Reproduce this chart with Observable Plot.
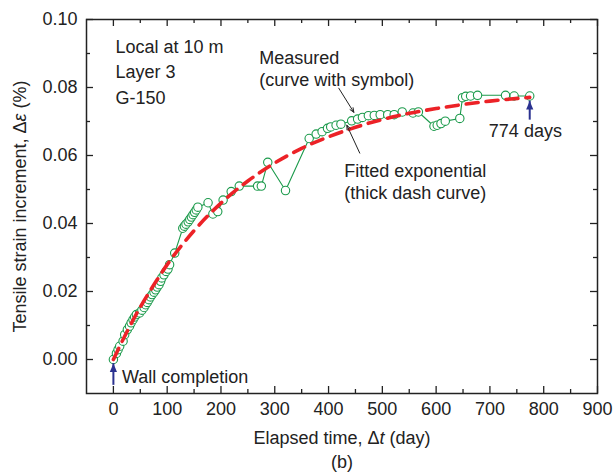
<!DOCTYPE html>
<html>
<head>
<meta charset="utf-8">
<script src="https://cdn.jsdelivr.net/npm/d3@7"></script>
<script src="https://cdn.jsdelivr.net/npm/@observablehq/plot@0.6"></script>
<style>
  body { margin: 0; background: white; }
</style>
</head>
<body>
<div id="chart"></div>
<script>
// Measured curve (elapsed time in days, tensile strain increment in %)
const measT = [0, 5.6, 8.7, 11.7, 18, 21, 26, 30, 33, 36.5, 39.5, 42.7, 48.8, 53, 57, 60, 63, 66, 69, 72,
  75.5, 78.5, 81.6, 84.8, 87.8, 90, 94, 98, 101.5, 104.5, 114, 129, 132, 135, 139, 142, 145, 148, 151, 154,
  157, 176, 185, 194, 204, 219, 234, 268, 275, 287, 320, 364, 377, 388, 398, 404, 414, 423, 443, 454,
  463, 474, 485, 496, 510, 522, 537, 557, 567, 596, 602, 609, 617, 644, 649, 655, 664, 677, 729, 745, 774];
const measV = [0, 0.0018, 0.0029, 0.0039, 0.0054, 0.0073, 0.0088, 0.0098, 0.0108, 0.0117, 0.0125, 0.0132, 0.0137, 0.0145, 0.0153, 0.0161, 0.0168, 0.0176, 0.0184, 0.0191,
  0.0198, 0.0205, 0.0213, 0.022, 0.023, 0.024, 0.0249, 0.0259, 0.0266, 0.0279, 0.0313, 0.0386, 0.0392, 0.0398, 0.0405, 0.0412, 0.0419, 0.0426, 0.0433, 0.044,
  0.0448, 0.0461, 0.0428, 0.0435, 0.0469, 0.0494, 0.051, 0.051, 0.051, 0.058, 0.0497, 0.065, 0.0663, 0.067, 0.068, 0.0684, 0.0689, 0.0692, 0.0702, 0.0707,
  0.0712, 0.0717, 0.0718, 0.072, 0.072, 0.072, 0.0728, 0.0725, 0.0728, 0.0686, 0.0689, 0.0694, 0.0701, 0.0709, 0.077, 0.0774, 0.0775, 0.0777, 0.0777, 0.0775, 0.0775];

// Fitted exponential curve
const fitT = [0, 25, 50, 75, 100, 150, 200, 250, 300, 350, 400, 450, 500, 550, 600, 650, 700, 774];
const fitV = [0, 0.0081, 0.0154, 0.0219, 0.0279, 0.0379, 0.046, 0.0525, 0.0578, 0.0621, 0.0655, 0.0683, 0.0706, 0.0724, 0.0738, 0.075, 0.076, 0.0771];

// Axis ticks
const xMajor = [0, 100, 200, 300, 400, 500, 600, 700, 800, 900];
const xMinor = [50, 150, 250, 350, 450, 550, 650, 750, 850];
const yMajor = [0, 0.02, 0.04, 0.06, 0.08, 0.10];
const yMinor = [0.01, 0.03, 0.05, 0.07, 0.09];
const xDomain = [-50, 900];
const yDomain = [-0.01, 0.10];

// Annotations
const noteText = ["Local at 10 m", "Layer 3", "G-150", "Measured", "(curve with symbol)", "Fitted exponential", "(thick dash curve)", "774 days", "Wall completion"];
const noteT = [3.7, 3.7, 3.7, 271, 271, 429, 429, 698, 16];
const noteV = [0.0918, 0.0845, 0.0768, 0.0886, 0.0821, 0.0554, 0.049, 0.0672, -0.0053];

const pointerT1 = [419, 458];
const pointerV1 = [0.0798, 0.0607];
const pointerT2 = [447, 434];
const pointerV2 = [0.0727, 0.0689];

const blueT = [0, 774];
const blueTip = [-0.0012, 0.0760];
const blueBase = [-0.0076, 0.0704];

const measured = measT.map((t, i) => ({t, v: measV[i]}));
const fitted = fitT.map((t, i) => ({t, v: fitV[i]}));
const notes = noteText.map((s, i) => ({s, t: noteT[i], v: noteV[i]}));
const pointers = pointerT1.map((t, i) => ({t1: t, v1: pointerV1[i], t2: pointerT2[i], v2: pointerV2[i]}));
const blue = blueT.map((t, i) => ({t, tip: blueTip[i], base: blueBase[i]}));

const tipSymbol = {
  draw(ctx) {
    ctx.moveTo(0, 0);
    ctx.lineTo(3.6, 8.5);
    ctx.lineTo(-3.6, 8.5);
    ctx.closePath();
  }
};

const W = 613, H = 475, mL = 86, mR = 16, mT = 19, mB = 82;
const fw = W - mL - mR, fh = H - mT - mB;
const ink = "#222";
const green = "#1b9a4b";
const red = "#ec2227";
const navy = "#2b3290";

const chart = Plot.plot({
  width: W,
  height: H,
  marginLeft: mL,
  marginRight: mR,
  marginTop: mT,
  marginBottom: mB,
  style: {fontFamily: "'Liberation Sans', Arial, sans-serif", fontSize: "18px", color: ink, background: "white"},
  x: {domain: xDomain},
  y: {domain: yDomain},
  marks: [
    // tick marks (inward, all four sides)
    Plot.ruleX(xMajor, {x: d => d, insetTop: fh - 7, stroke: ink, strokeWidth: 1.3}),
    Plot.ruleX(xMajor, {x: d => d, insetBottom: fh - 7, stroke: ink, strokeWidth: 1.3}),
    Plot.ruleX(xMinor, {x: d => d, insetTop: fh - 4, stroke: ink, strokeWidth: 1.3}),
    Plot.ruleX(xMinor, {x: d => d, insetBottom: fh - 4, stroke: ink, strokeWidth: 1.3}),
    Plot.ruleY(yMajor, {y: d => d, insetRight: fw - 7, stroke: ink, strokeWidth: 1.3}),
    Plot.ruleY(yMajor, {y: d => d, insetLeft: fw - 7, stroke: ink, strokeWidth: 1.3}),
    Plot.ruleY(yMinor, {y: d => d, insetRight: fw - 4, stroke: ink, strokeWidth: 1.3}),
    Plot.ruleY(yMinor, {y: d => d, insetLeft: fw - 4, stroke: ink, strokeWidth: 1.3}),
    Plot.frame({stroke: ink, strokeWidth: 1.5}),
    Plot.axisX({ticks: xMajor, tickSize: 0, tickPadding: 9, tickFormat: d => String(d), label: null, fontSize: 18, fill: ink}),
    Plot.axisY({ticks: yMajor, tickSize: 0, tickPadding: 9, tickFormat: d3.format(".2f"), label: null, fontSize: 18, fill: ink}),
    // measured curve with symbols
    Plot.line(measured, {x: "t", y: "v", stroke: green, strokeWidth: 1.1}),
    Plot.dot(measured, {x: "t", y: "v", r: 4.2, stroke: green, strokeWidth: 1.1, fill: "white"}),
    // fitted exponential thick dashes
    Plot.line(fitted, {x: "t", y: "v", stroke: red, strokeWidth: 3.6, strokeDasharray: "12,8", curve: "monotone-x"}),
    // blue arrows
    Plot.ruleX(blue, {x: "t", y1: "base", y2: "tip", stroke: navy, strokeWidth: 2}),
    Plot.dot(blue, {x: "t", y: "tip", symbol: tipSymbol, r: 4, fill: navy, stroke: null}),
    // black pointers
    Plot.arrow(pointers, {x1: "t1", y1: "v1", x2: "t2", y2: "v2", stroke: ink, strokeWidth: 1, headLength: 7, headAngle: 45}),
    // annotations
    Plot.text(notes, {x: "t", y: "v", text: "s", textAnchor: "start", lineAnchor: "middle", fontSize: 18, fill: ink}),
    // axis titles and caption
    Plot.text(["Elapsed time, Δt (day)"], {frameAnchor: "bottom", text: d => d, dy: 45, textAnchor: "middle", lineAnchor: "middle", fontSize: 18, fill: ink}),
    Plot.text(["(b)"], {frameAnchor: "bottom", text: d => d, dy: 69, textAnchor: "middle", lineAnchor: "middle", fontSize: 18, fill: ink}),
    Plot.text(["Tensile strain increment, Δε (%)"], {frameAnchor: "left", text: d => d, dx: -66, rotate: -90, textAnchor: "middle", lineAnchor: "middle", fontSize: 18, fill: ink})
  ]
});

document.getElementById("chart").appendChild(chart);

// italic variables in the axis titles
chart.querySelectorAll("text").forEach(el => {
  const s = el.textContent;
  if (s === "Elapsed time, Δt (day)") {
    el.innerHTML = 'Elapsed time, Δ<tspan font-style="italic">t</tspan> (day)';
  } else if (s === "Tensile strain increment, Δε (%)") {
    el.innerHTML = 'Tensile strain increment, Δ<tspan font-style="italic">ε</tspan> (%)';
  }
});
</script>
</body>
</html>
